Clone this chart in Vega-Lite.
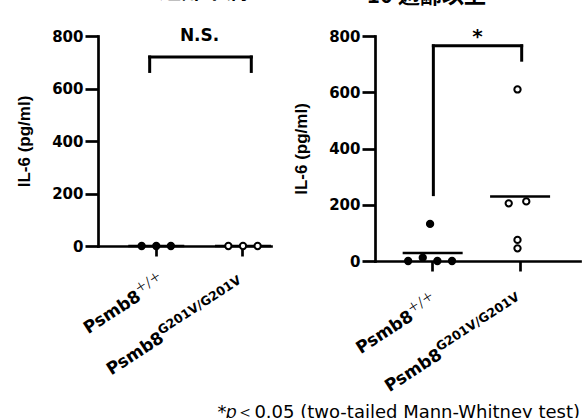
{
  "$schema": "https://vega.github.io/schema/vega-lite/v6.json",
  "padding": {"left": 15, "top": -20, "right": 4, "bottom": 0},
  "background": "white",
  "config": {
    "view": {"stroke": null},
    "axis": {"grid": false, "domainColor": "black", "tickColor": "black", "labelColor": "black", "titleColor": "black", "domainWidth": 2.7, "tickWidth": 2.7, "domainCap": "square"}
  },
  "title": {"text": "*𝑝＜0.05 (two-tailed Mann-Whitney test)", "orient": "bottom", "anchor": "end", "font": "DejaVu Sans", "fontSize": 18, "fontWeight": "normal", "color": "black", "offset": 9},
  "datasets": {
    "young": [
      {"g": "WT", "v": 0, "s": -2}, {"g": "WT", "v": 0, "s": 0}, {"g": "WT", "v": 0, "s": 2},
      {"g": "MUT", "v": 0, "s": -2}, {"g": "MUT", "v": 0, "s": 0}, {"g": "MUT", "v": 0, "s": 2}
    ],
    "old": [
      {"g": "WT", "v": 0, "s": -3}, {"g": "WT", "v": 12, "s": -1}, {"g": "WT", "v": 132, "s": 0}, {"g": "WT", "v": 0, "s": 1}, {"g": "WT", "v": 0, "s": 3},
      {"g": "MUT", "v": 205, "s": -1.2}, {"g": "MUT", "v": 610, "s": 0}, {"g": "MUT", "v": 75, "s": 0}, {"g": "MUT", "v": 45, "s": 0}, {"g": "MUT", "v": 212, "s": 1.2}
    ],
    "brk_young": [{"g": "WT", "g2": "MUT", "hi": 720, "lo1": 665, "lo2": 665, "ty": 782, "note": "N.S."}],
    "brk_old": [{"g": "WT", "g2": "MUT", "hi": 765, "lo1": 236, "lo2": 714, "ty": 774, "note": "*"}],
    "labels": [{"g": "WT", "main": "Psmb8", "sup": "＋/＋"}, {"g": "MUT", "main": "Psmb8", "sup": "G201V/G201V"}]
  },
  "spacing": 21,
  "hconcat": [
    {
      "width": 173, "height": 210,
      "title": {"text": "8 週齢未満", "font": "Noto Sans CJK JP", "fontSize": 22, "fontWeight": "bold", "color": "black", "anchor": "middle", "frame": "group", "dx": 10, "baseline": "bottom", "offset": 1.5},
      "layer": [
        {
          "data": {"name": "young"},
          "mark": {"type": "tick", "size": 56, "thickness": 2.5, "color": "black"},
          "encoding": {
            "x": {"field": "g", "type": "nominal", "scale": {"type": "band", "domain": ["WT", "MUT"], "paddingInner": 0.354, "paddingOuter": 0.1745, "align": 1}, "axis": {"labels": false, "title": null, "tickSize": 10}},
            "y": {"aggregate": "mean", "field": "v", "type": "quantitative", "scale": {"domain": [0, 800], "nice": false}, "axis": {"values": [0, 200, 400, 600, 800], "title": "IL-6 (pg/ml)", "titleFont": "Liberation Sans", "titleFontSize": 17, "titleFontWeight": "bold", "titlePadding": 18, "labelFont": "DejaVu Sans", "labelFontSize": 15, "labelFontWeight": "bold", "tickSize": 13, "labelPadding": 2}}
          }
        },
        {
          "data": {"name": "young"},
          "mark": {"type": "point", "shape": "circle", "size": 40, "stroke": "black", "strokeWidth": 2, "opacity": 1},
          "encoding": {
            "x": {"field": "g", "type": "nominal"},
            "xOffset": {"field": "s", "type": "quantitative", "scale": {"domain": [-3.24, 3.24], "nice": false, "zero": false}},
            "y": {"field": "v", "type": "quantitative"},
            "fill": {"field": "g", "type": "nominal", "scale": {"domain": ["WT", "MUT"], "range": ["black", "white"]}, "legend": null}
          }
        },
        {
          "data": {"name": "brk_young"},
          "mark": {"type": "rule", "strokeWidth": 3, "color": "black", "strokeCap": "square", "xOffset": -6.6, "x2Offset": 8.3},
          "encoding": {"x": {"field": "g", "type": "nominal"}, "x2": {"field": "g2"}, "y": {"field": "hi", "type": "quantitative"}}
        },
        {
          "data": {"name": "brk_young"},
          "mark": {"type": "rule", "strokeWidth": 3, "color": "black", "strokeCap": "square", "xOffset": -6.6},
          "encoding": {"x": {"field": "g", "type": "nominal"}, "y": {"field": "lo1", "type": "quantitative"}, "y2": {"field": "hi"}}
        },
        {
          "data": {"name": "brk_young"},
          "mark": {"type": "rule", "strokeWidth": 3, "color": "black", "strokeCap": "square", "xOffset": 8.3},
          "encoding": {"x": {"field": "g2", "type": "nominal"}, "y": {"field": "lo2", "type": "quantitative"}, "y2": {"field": "hi"}}
        },
        {
          "data": {"name": "brk_young"},
          "mark": {"type": "text", "font": "DejaVu Sans", "fontSize": 17, "fontWeight": "bold", "color": "black", "align": "center", "baseline": "alphabetic", "dx": 43.3},
          "encoding": {"x": {"field": "g", "type": "nominal"}, "y": {"field": "ty", "type": "quantitative"}, "text": {"field": "note"}}
        },
        {
          "data": {"name": "labels"},
          "transform": [{"filter": "datum.g == 'WT'"}],
          "mark": {"type": "text", "font": "DejaVu Sans", "fontSize": 17, "fontWeight": "bold", "color": "black", "align": "right", "baseline": "alphabetic", "angle": -33, "dx": -41, "dy": 37},
          "encoding": {"x": {"field": "g", "type": "nominal"}, "y": {"datum": 0}, "text": {"field": "main"}}
        },
        {
          "data": {"name": "labels"},
          "transform": [{"filter": "datum.g == 'WT'"}],
          "mark": {"type": "text", "font": "Noto Sans CJK JP", "fontSize": 12, "fontWeight": "normal", "color": "black", "align": "left", "baseline": "alphabetic", "angle": -33, "dx": -41, "dy": 30},
          "encoding": {"x": {"field": "g", "type": "nominal"}, "y": {"datum": 0}, "text": {"field": "sup"}}
        },
        {
          "data": {"name": "labels"},
          "transform": [{"filter": "datum.g == 'MUT'"}],
          "mark": {"type": "text", "font": "DejaVu Sans", "fontSize": 17, "fontWeight": "bold", "color": "black", "align": "right", "baseline": "alphabetic", "angle": -33, "dx": -117, "dy": 37},
          "encoding": {"x": {"field": "g", "type": "nominal"}, "y": {"datum": 0}, "text": {"field": "main"}}
        },
        {
          "data": {"name": "labels"},
          "transform": [{"filter": "datum.g == 'MUT'"}],
          "mark": {"type": "text", "font": "DejaVu Sans", "fontSize": 12.5, "fontWeight": "bold", "color": "black", "align": "left", "baseline": "alphabetic", "angle": -33, "dx": -117, "dy": 30},
          "encoding": {"x": {"field": "g", "type": "nominal"}, "y": {"datum": 0}, "text": {"field": "sup"}}
        }
      ]
    },
    {
      "width": 205, "height": 225,
      "title": {"text": "10 週齢以上", "font": "Noto Sans CJK JP", "fontSize": 22, "fontWeight": "bold", "color": "black", "anchor": "middle", "frame": "group", "dx": -51, "baseline": "bottom", "offset": -3},
      "layer": [
        {
          "data": {"name": "old"},
          "mark": {"type": "tick", "size": 60, "thickness": 2.5, "color": "black"},
          "encoding": {
            "x": {"field": "g", "type": "nominal", "scale": {"type": "band", "domain": ["WT", "MUT"], "paddingInner": 0.3, "paddingOuter": 0.3225, "align": 0.48}, "axis": {"labels": false, "title": null, "tickSize": 10}},
            "y": {"aggregate": "mean", "field": "v", "type": "quantitative", "scale": {"domain": [0, 800], "nice": false}, "axis": {"values": [0, 200, 400, 600, 800], "title": "IL-6 (pg/ml)", "titleFont": "Liberation Sans", "titleFontSize": 17, "titleFontWeight": "bold", "titlePadding": 18, "labelFont": "DejaVu Sans", "labelFontSize": 15, "labelFontWeight": "bold", "tickSize": 13, "labelPadding": 2}}
          }
        },
        {
          "data": {"name": "old"},
          "mark": {"type": "point", "shape": "circle", "size": 40, "stroke": "black", "strokeWidth": 2, "opacity": 1},
          "encoding": {
            "x": {"field": "g", "type": "nominal"},
            "xOffset": {"field": "s", "type": "quantitative", "scale": {"domain": [-3.83, 3.83], "nice": false, "zero": false}},
            "y": {"field": "v", "type": "quantitative"},
            "fill": {"field": "g", "type": "nominal", "scale": {"domain": ["WT", "MUT"], "range": ["black", "white"]}, "legend": null}
          }
        },
        {
          "data": {"name": "brk_old"},
          "mark": {"type": "rule", "strokeWidth": 3, "color": "black", "strokeCap": "square", "xOffset": 0.7, "x2Offset": 1.6},
          "encoding": {"x": {"field": "g", "type": "nominal"}, "x2": {"field": "g2"}, "y": {"field": "hi", "type": "quantitative"}}
        },
        {
          "data": {"name": "brk_old"},
          "mark": {"type": "rule", "strokeWidth": 3, "color": "black", "strokeCap": "square", "xOffset": 0.7},
          "encoding": {"x": {"field": "g", "type": "nominal"}, "y": {"field": "lo1", "type": "quantitative"}, "y2": {"field": "hi"}}
        },
        {
          "data": {"name": "brk_old"},
          "mark": {"type": "rule", "strokeWidth": 3, "color": "black", "strokeCap": "square", "xOffset": 1.6},
          "encoding": {"x": {"field": "g2", "type": "nominal"}, "y": {"field": "lo2", "type": "quantitative"}, "y2": {"field": "hi"}}
        },
        {
          "data": {"name": "brk_old"},
          "mark": {"type": "text", "font": "DejaVu Sans", "fontSize": 20, "fontWeight": "bold", "color": "black", "align": "center", "baseline": "alphabetic", "dx": 44.7},
          "encoding": {"x": {"field": "g", "type": "nominal"}, "y": {"field": "ty", "type": "quantitative"}, "text": {"field": "note"}}
        },
        {
          "data": {"name": "labels"},
          "transform": [{"filter": "datum.g == 'WT'"}],
          "mark": {"type": "text", "font": "DejaVu Sans", "fontSize": 17, "fontWeight": "bold", "color": "black", "align": "right", "baseline": "alphabetic", "angle": -33, "dx": -47, "dy": 39},
          "encoding": {"x": {"field": "g", "type": "nominal"}, "y": {"datum": 0}, "text": {"field": "main"}}
        },
        {
          "data": {"name": "labels"},
          "transform": [{"filter": "datum.g == 'WT'"}],
          "mark": {"type": "text", "font": "Noto Sans CJK JP", "fontSize": 12, "fontWeight": "normal", "color": "black", "align": "left", "baseline": "alphabetic", "angle": -33, "dx": -47, "dy": 32},
          "encoding": {"x": {"field": "g", "type": "nominal"}, "y": {"datum": 0}, "text": {"field": "sup"}}
        },
        {
          "data": {"name": "labels"},
          "transform": [{"filter": "datum.g == 'MUT'"}],
          "mark": {"type": "text", "font": "DejaVu Sans", "fontSize": 17, "fontWeight": "bold", "color": "black", "align": "right", "baseline": "alphabetic", "angle": -33, "dx": -117, "dy": 39},
          "encoding": {"x": {"field": "g", "type": "nominal"}, "y": {"datum": 0}, "text": {"field": "main"}}
        },
        {
          "data": {"name": "labels"},
          "transform": [{"filter": "datum.g == 'MUT'"}],
          "mark": {"type": "text", "font": "DejaVu Sans", "fontSize": 12.5, "fontWeight": "bold", "color": "black", "align": "left", "baseline": "alphabetic", "angle": -33, "dx": -117, "dy": 32},
          "encoding": {"x": {"field": "g", "type": "nominal"}, "y": {"datum": 0}, "text": {"field": "sup"}}
        }
      ]
    }
  ]
}
